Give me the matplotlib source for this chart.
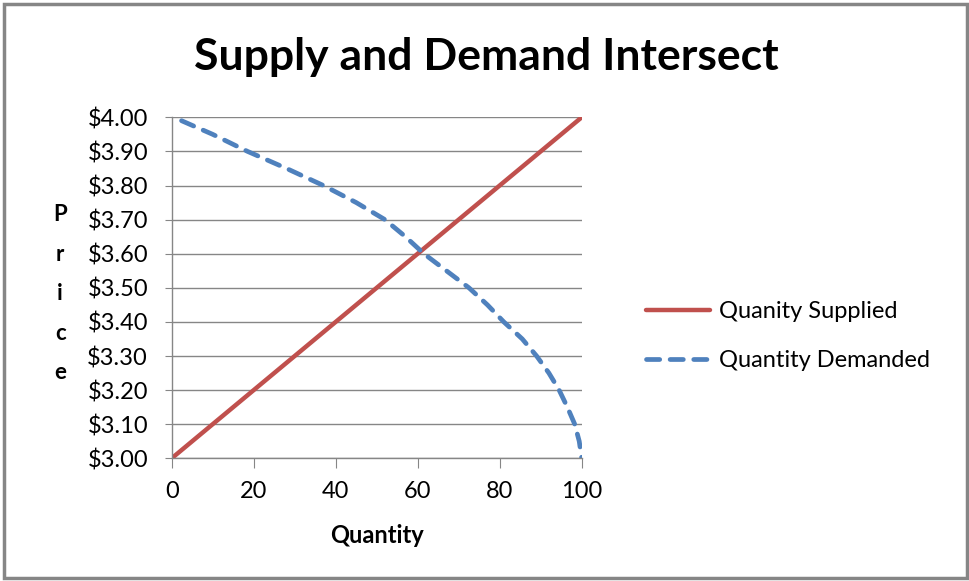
import matplotlib.pyplot as plt
import matplotlib as mpb
from matplotlib.patches import Rectangle

mpb.rcParams.update({
    'font.family': ['Lato', 'DejaVu Sans'],
})

# supply: straight line
supply_q = [0, 100]
supply_p = [3.00, 4.00]

# demand
demand_q = [2.4, 10, 18.5, 28, 37, 45, 52, 57, 61.5, 67, 72.5, 77, 81, 85.5, 89, 92, 94.5, 96.5, 98.3, 99.4, 100]
demand_p = [3.99, 3.95, 3.90, 3.85, 3.80, 3.75, 3.70, 3.65, 3.60, 3.55, 3.50, 3.45, 3.40, 3.35, 3.30, 3.25, 3.20, 3.15, 3.10, 3.05, 3.00]

x_ticks = [0, 20, 40, 60, 80, 100]
y_ticks = [3.00, 3.10, 3.20, 3.30, 3.40, 3.50, 3.60, 3.70, 3.80, 3.90, 4.00]

grey = '#868686'

fig = plt.figure(figsize=(9.69, 5.81), dpi=100)
ax = fig.add_axes([171.7/969, 1 - 458.3/581, 410/969, 341/581])

ax.plot(supply_q, supply_p, color='#C0504D', lw=3.2, solid_capstyle='round',
        label='Quanity Supplied')
ax.plot(demand_q, demand_p, color='#4F81BD', lw=3.4, dash_capstyle='round',
        linestyle=(0, (2.8, 2.2)), label='Quantity Demanded')

ax.set_xlim(0, 100)
ax.set_ylim(3.0, 4.0)
ax.set_xticks(x_ticks)
ax.set_yticks(y_ticks)
ax.set_yticklabels(['${:.2f}'.format(v) for v in y_ticks])
ax.grid(axis='y', color=grey, lw=1)
ax.set_axisbelow(True)
for s in ['top', 'right']:
    ax.spines[s].set_visible(False)
for s in ['left', 'bottom']:
    ax.spines[s].set_color(grey)
    ax.spines[s].set_linewidth(1)
ax.tick_params(axis='both', colors=grey, labelcolor='black', labelsize=17)
ax.tick_params(axis='x', length=7, pad=9)
ax.tick_params(axis='y', length=5, pad=12)

fig.text(486/969, 1 - 57/581, 'Supply and Demand Intersect', fontsize=32,
         fontweight='bold', ha='center', va='center')
ax.set_xlabel('Quantity', fontsize=17, fontweight='bold', labelpad=16)
ax.set_ylabel('\n'.join('Price'), rotation=0, fontsize=16, fontweight='bold',
              linespacing=2.09, va='center')
ax.yaxis.set_label_coords(-0.272, 0.482)

fig.legend(loc='center left', bbox_to_anchor=(625/969, 1 - 336/581), frameon=False,
           fontsize=17, handlelength=2.7, labelspacing=1.2, handletextpad=0.4)

# outer chart border
fig.patches.append(Rectangle((4/969, 3/581), 963/969, 574/581, transform=fig.transFigure,
                             fill=False, edgecolor=grey, lw=2.5))

plt.savefig('out.png', dpi=100)
